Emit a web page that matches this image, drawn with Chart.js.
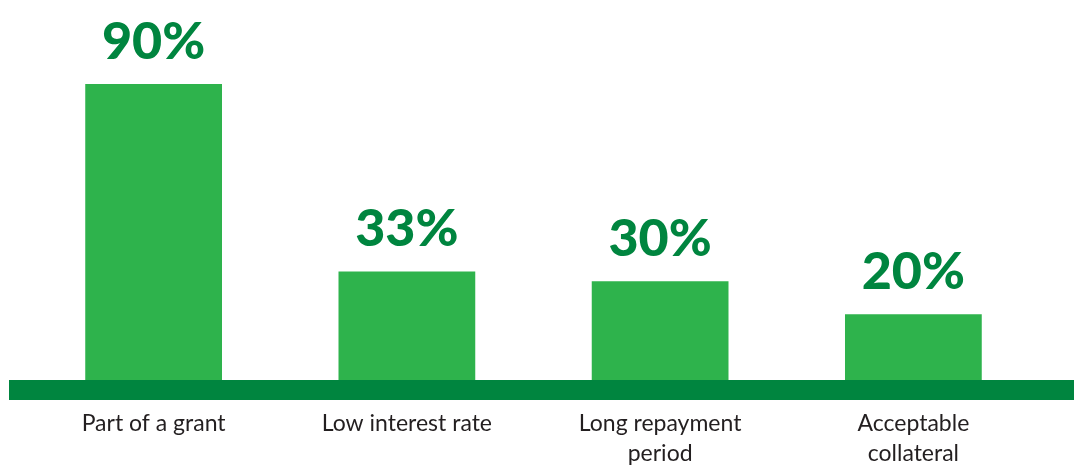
<!DOCTYPE html>
<html lang="en">
<head>
<meta charset="UTF-8">
<title>Preferred loan features</title>
<script src="https://cdn.jsdelivr.net/npm/chart.js@4.4.1/dist/chart.umd.min.js"></script>
<style>
  html, body { margin: 0; padding: 0; background: #ffffff; }
</style>
</head>
<body>
<canvas id="loanChart" width="1074" height="466"></canvas>
<script>
// data
const categories = [['Part of a grant'], ['Low interest rate'], ['Long repayment', 'period'], ['Acceptable', 'collateral']];
const shares = [90, 33, 30, 20];
const valueLabels = ['90%', '33%', '30%', '20%'];
const yMin = 0;
const yMax = 100;

const barGreen = '#2eb34c';
const darkGreen = '#00853f';

// thick dark green strip under the bars
const baseBand = {
    id: 'baseBand',
    afterDatasetsDraw(chart) {
        const ctx = chart.ctx;
        const y0 = chart.scales.y.getPixelForValue(0);
        ctx.save();
        ctx.fillStyle = darkGreen;
        ctx.fillRect(9, y0, chart.width - 9, 20);
        ctx.restore();
    }
};

// big percentage over each bar
const barValues = {
    id: 'barValues',
    afterDatasetsDraw(chart) {
        const ctx = chart.ctx;
        const meta = chart.getDatasetMeta(0);
        ctx.save();
        ctx.fillStyle = darkGreen;
        ctx.font = '900 52px Lato';
        ctx.textAlign = 'center';
        ctx.textBaseline = 'alphabetic';
        meta.data.forEach((bar, i) => {
            ctx.fillText(valueLabels[i], bar.x, bar.y - 25);
        });
        ctx.restore();
    }
};

new Chart(document.getElementById('loanChart'), {
    type: 'bar',
    data: {
        labels: categories,
        datasets: [{
            data: shares,
            backgroundColor: barGreen,
            borderWidth: 0,
            barPercentage: 0.54,
            categoryPercentage: 1
        }]
    },
    options: {
        responsive: false,
        animation: false,
        layout: { padding: { left: 27, right: 34, top: 51, bottom: 0 } },
        plugins: {
            legend: { display: false },
            tooltip: { enabled: false }
        },
        scales: {
            x: {
                grid: { display: false, drawTicks: false },
                border: { display: false },
                ticks: {
                    color: '#231f20',
                    padding: 29,
                    maxRotation: 0,
                    autoSkip: false,
                    font: { family: 'Lato', size: 23, lineHeight: 1.3 }
                },
                afterFit(scale) { scale.height = 86; }
            },
            y: {
                display: false,
                min: yMin,
                max: yMax
            }
        }
    },
    plugins: [baseBand, barValues]
});
</script>
</body>
</html>
